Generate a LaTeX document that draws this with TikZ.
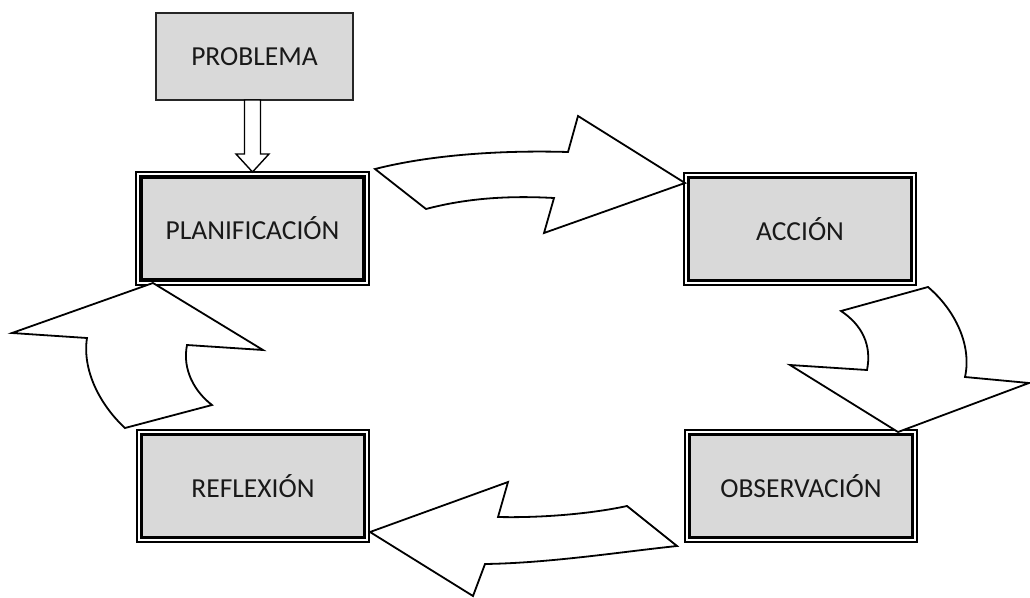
\documentclass[tikz,border=0pt]{standalone}
\usepackage{fontspec}
\setmainfont{Carlito}
\usetikzlibrary{calc}
\definecolor{boxgray}{HTML}{D9D9D9}
\begin{document}
\begin{tikzpicture}[x=1pt,y=-1pt,
  every node/.style={font=\fontsize{27.5}{31}\selectfont, text=black!90},
  probbox/.style={rectangle, draw=black!85, line width=1.4pt, fill=boxgray,
    minimum width=197pt, minimum height=87pt, outer sep=0pt},
  dbox/.style={rectangle, draw=black, line width=3.6pt, fill=boxgray,
    minimum width=223pt, minimum height=103pt, outer sep=0pt},
  frame/.style={draw=black, line width=2pt},
  blockarrow/.style={draw=black, line width=1.8pt, fill=white, line join=miter},
  downarrow/.style={draw=black, line width=1.4pt, fill=white}
]
\useasboundingbox (0,0) rectangle (1030,597);

\node[probbox] (prob) at (254.5,56.5) {PROBLEMA};
\node[dbox] (plan) at (252.5,228.5) {PLANIFICACIÓN};
\node[dbox] (acc)  at (800,229)    {ACCIÓN};
\node[dbox] (refl) at (253,486)    {REFLEXIÓN};
\node[dbox] (obs)  at (801,486)    {OBSERVACIÓN};

\foreach \n in {plan,acc,refl,obs}{
  \draw[frame] ($(\n.north west)+(-4.6,-4.6)$) rectangle ($(\n.south east)+(4.6,4.6)$);
}

% down block arrow from PROBLEMA to PLANIFICACION
\coordinate (dtop) at (prob.south -| plan.north);
\coordinate (dtip) at ($(plan.north)+(0,-5)$);
\draw[downarrow] ($(dtop)+(-8,0)$) -- ($(dtop)+(8,0)$) -- ($(dtop)+(8,54)$)
  -- ($(dtop)+(16.5,54)$) -- (dtip) -- ($(dtop)+(-16.5,54)$) -- ($(dtop)+(-8,54)$) -- cycle;

% PLANIFICACION -> ACCION
\draw[blockarrow] (375,169) .. controls (430,155) and (500,150) .. (568,152)
  -- (578,116) -- (685,183) -- (544,233) -- (554,198)
  .. controls (500,195) and (460,200) .. (426,209) -- cycle;

% ACCION -> OBSERVACION
\draw[blockarrow] (841,311) -- (928,287)
  .. controls (955,310) and (972,345) .. (965,377)
  -- (1029,383) -- (898,432) -- (790,365) -- (867,370)
  .. controls (872,345) and (862,325) .. (841,311) -- cycle;

% OBSERVACION -> REFLEXION
\draw[blockarrow] (370,532) -- (508,482) -- (498,517)
  .. controls (540,518) and (590,514) .. (627,506)
  -- (677,546)
  .. controls (620,552) and (550,563) .. (485,564)
  -- (473,596) -- cycle;

% REFLEXION -> PLANIFICACION
\draw[blockarrow] (153,283) -- (263,350) -- (187,345)
  .. controls (182,370) and (195,392) .. (212,405)
  -- (125,428)
  .. controls (100,405) and (82,370) .. (87,338)
  -- (12,333) -- cycle;
\end{tikzpicture}
\end{document}
